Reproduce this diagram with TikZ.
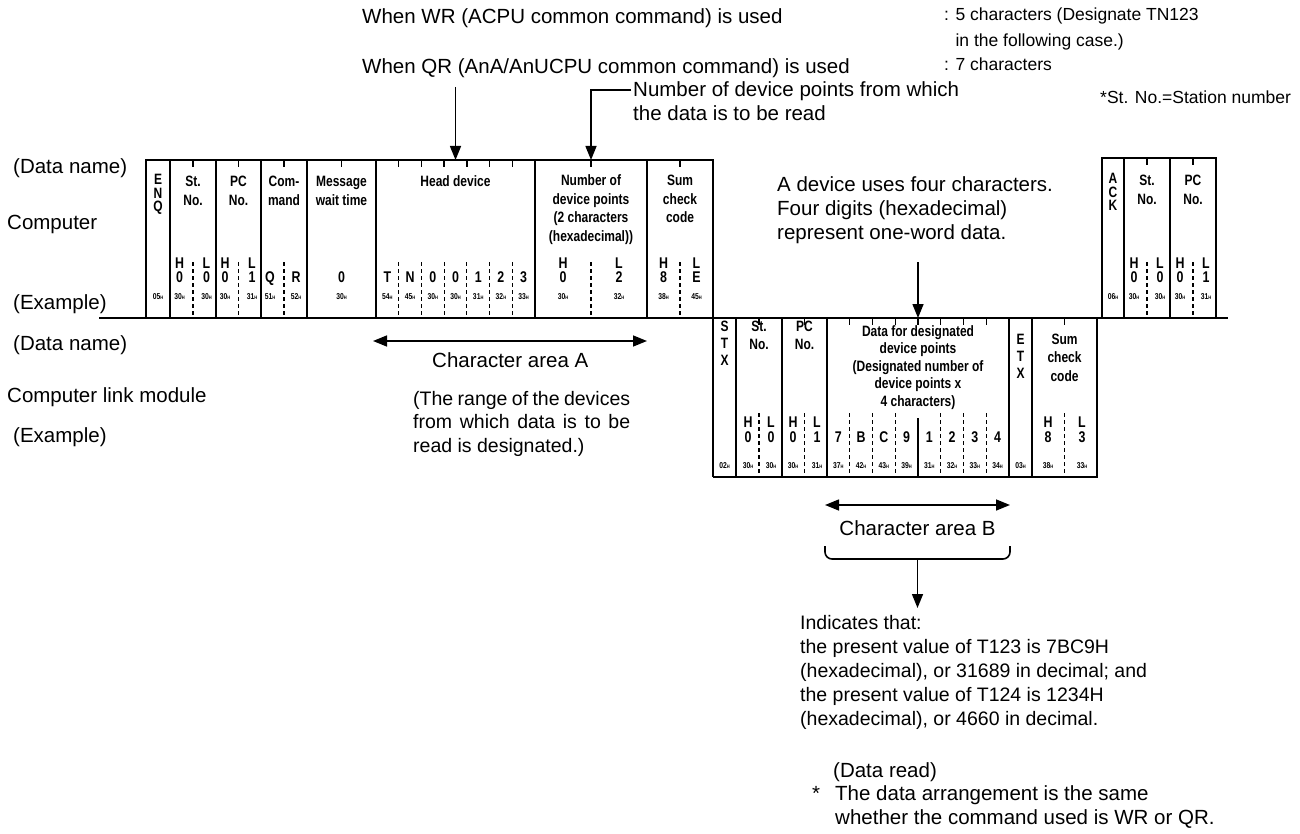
\documentclass[tikz,border=0pt]{standalone}
\usepackage{fontspec}
\setmainfont{Liberation Sans}
\newfontfamily\narrowfont{Liberation Sans}[FakeStretch=0.80]
\usetikzlibrary{arrows.meta}
\newcommand\hx[1]{{\fontsize{8.5}{9}\selectfont #1}{\fontsize{5}{5}\selectfont H}}
\newcommand\ctr[1]{\vtop{\halign{\hfil##\hfil\cr#1\crcr}}}
\newcommand\lft[1]{\vtop{\halign{##\hfil\cr#1\crcr}}}
\begin{document}
\begin{tikzpicture}[x=1pt,y=-1pt,
  txt/.style={font=\fontsize{20.5}{24}\selectfont, inner sep=0, anchor=base west},
  stxt/.style={font=\fontsize{17.5}{26}\selectfont, inner sep=0, anchor=base west},
  lbl/.style={font=\narrowfont\bfseries\fontsize{15}{18.5}\selectfont, inner sep=0, anchor=base},
  vlet/.style={font=\narrowfont\bfseries\fontsize{15}{13.5}\selectfont, inner sep=0, anchor=base},
  ch/.style={font=\narrowfont\bfseries\fontsize{15.5}{15.5}\selectfont, inner sep=0, anchor=base},
  hex/.style={font=\narrowfont\bfseries, inner sep=0, anchor=base},
  frm/.style={line width=1.6pt},
  tick/.style={line width=1.3pt},
  dv/.style={line width=1.1pt, dash pattern=on 4pt off 3pt},
  arr/.style={line width=1.5pt, -{Triangle[length=14pt,width=11pt]}},
  darr/.style={line width=1.5pt, {Triangle[length=14pt,width=11pt]}-{Triangle[length=14pt,width=11pt]}}]
\useasboundingbox (0,0) rectangle (1300,834);

% ---------- top texts ----------
\node[txt] (wr) at (362,24) {When WR (ACPU common command) is used};
\node[stxt] (wrv) at (944,21) {\lft{: 5 characters (Designate TN123\cr \phantom{: }in the following case.)}};
\node[txt] (qr) at (362,74) {When QR (AnA/AnUCPU common command) is used};
\node[stxt] (qrv) at (944,71) {: 7 characters};
\node[txt] (np) at (633,97) {\lft{Number of device points from which\cr the data is to be read}};
\node[txt, font=\fontsize{17.5}{20}\selectfont] (stn) at (1100,104) {*St. No.=Station number};

% ---------- left labels ----------
\node[txt] (dn1) at (13,174) {(Data name)};
\node[txt] (cp) at (7,230) {Computer};
\node[txt] (ex1) at (13,309) {(Example)};
\node[txt] (dn2) at (13,350) {(Data name)};
\node[txt] (clm) at (7,402) {Computer link module};
\node[txt] (ex2) at (13,442) {(Example)};

% ---------- main horizontal line ----------
\coordinate (hl0) at (99,318);
\coordinate (hl1) at (1228,318);
\draw[frm] (hl0) -- (hl1);

% ---------- top frame ----------
\draw[frm] (146,318) -- (146,160) -- (713,160) -- (713,477);
\foreach \x in {170,216,261,307,376,535,647} \draw[frm] (\x,160) -- (\x,318);
\foreach \x in {193,238.5,284,341.5,398.7,421.4,444.1,466.9,489.6,512.3,591,680}
  \draw[tick] (\x,160) -- (\x,167);
\foreach \x in {193,238.5,284,398.7,421.4,444.1,466.9,489.6,512.3,591,680}
  \draw[dv] (\x,262) -- (\x,318);
% ENQ
\node[vlet] (enq) at (158,185) {\ctr{E\cr N\cr Q}};
\node[hex] at (158,299) {\hx{05}};
% St No
\node[lbl] (stno) at (193,187) {\ctr{St.\cr No.}};
\node[ch] at (179.5,269) {H}; \node[ch] at (206.5,269) {L};
\node[ch] at (179.5,283) {0}; \node[ch] at (206.5,283) {0};
\node[hex] at (179.5,299) {\hx{30}}; \node[hex] at (206.5,299) {\hx{30}};
% PC No
\node[lbl] (pcno) at (238.5,187) {\ctr{PC\cr No.}};
\node[ch] at (225,269) {H}; \node[ch] at (252,269) {L};
\node[ch] at (225,283) {0}; \node[ch] at (252,283) {1};
\node[hex] at (225,299) {\hx{30}}; \node[hex] at (252,299) {\hx{31}};
% Command
\node[lbl] (cmd) at (284,187) {\ctr{Com-\cr mand}};
\node[ch] at (270,283) {Q}; \node[ch] at (296,283) {R};
\node[hex] at (270,299) {\hx{51}}; \node[hex] at (296,299) {\hx{52}};
% Message wait time
\node[lbl] (mwt) at (341.5,187) {\ctr{Message\cr wait time}};
\node[ch] at (341.5,283) {0};
\node[hex] at (341.5,299) {\hx{30}};
% Head device
\node[lbl] (hd) at (455.5,187) {Head device};
\foreach \c/\h [count=\i from 0] in {T/54,N/45,0/30,0/30,1/31,2/32,3/33}{
  \node[ch] at (376+22.714*\i+11.357,283) {\c};
  \node[hex] at (376+22.714*\i+11.357,299) {\hx{\h}};
}
\coordinate (hdtop) at (455.5,160);
% Number of device points
\node[lbl] (ndp) at (591,186) {\ctr{Number of\cr device points\cr (2 characters\cr (hexadecimal))}};
\node[ch] at (563,269) {H}; \node[ch] at (619,269) {L};
\node[ch] at (563,283) {0}; \node[ch] at (619,283) {2};
\node[hex] at (563,299) {\hx{30}}; \node[hex] at (619,299) {\hx{32}};
\coordinate (ndptop) at (591,160);
% Sum check
\node[lbl] (sc1) at (680,186) {\ctr{Sum\cr check\cr code}};
\node[ch] at (663.5,269) {H}; \node[ch] at (696.5,269) {L};
\node[ch] at (663.5,283) {8}; \node[ch] at (696.5,283) {E};
\node[hex] at (663.5,299) {\hx{38}}; \node[hex] at (696.5,299) {\hx{45}};

% ---------- ACK frame ----------
\draw[frm] (1102,318) -- (1102,158) -- (1216,158) -- (1216,318);
\foreach \x in {1124,1170} \draw[frm] (\x,158) -- (\x,318);
\foreach \x in {1147,1193} {\draw[tick] (\x,158) -- (\x,165); \draw[dv] (\x,262) -- (\x,318);}
\node[vlet] (ack) at (1113,184) {\ctr{A\cr C\cr K}};
\node[hex] at (1113,299) {\hx{06}};
\node[lbl] (stno3) at (1147,186) {\ctr{St.\cr No.}};
\node[ch] at (1134,269) {H}; \node[ch] at (1160,269) {L};
\node[ch] at (1134,283) {0}; \node[ch] at (1160,283) {0};
\node[hex] at (1134,299) {\hx{30}}; \node[hex] at (1160,299) {\hx{30}};
\node[lbl] (pcno3) at (1193,186) {\ctr{PC\cr No.}};
\node[ch] at (1180,269) {H}; \node[ch] at (1206,269) {L};
\node[ch] at (1180,283) {0}; \node[ch] at (1206,283) {1};
\node[hex] at (1180,299) {\hx{30}}; \node[hex] at (1206,299) {\hx{31}};

% ---------- bottom frame ----------
\draw[frm] (713,477) -- (1097,477) -- (1097,318);
\foreach \x in {736,782,827,1009,1032} \draw[frm] (\x,318) -- (\x,477);
\foreach \x in {759,804.5,849.75,872.5,895.25,918,940.75,963.5,986.25,1064.5}
  \draw[tick] (\x,318) -- (\x,325);
\foreach \x in {759,804.5,849.75,872.5,895.25,940.75,963.5,986.25,1064.5}
  \draw[dv] (\x,413) -- (\x,477);
\draw[tick] (918,418) -- (918,477);
\node[vlet, font=\narrowfont\bfseries\fontsize{15}{17}\selectfont] (stx) at (724.5,331) {\ctr{S\cr T\cr X}};
\node[hex] at (724.5,468) {\hx{02}};
\node[lbl] (stno2) at (759,331) {\ctr{St.\cr No.}};
\node[ch] at (748,427) {H}; \node[ch] at (771,427) {L};
\node[ch] at (748,442) {0}; \node[ch] at (771,442) {0};
\node[hex] at (748,468) {\hx{30}}; \node[hex] at (771,468) {\hx{30}};
\node[lbl] (pcno2) at (804.5,331) {\ctr{PC\cr No.}};
\node[ch] at (793,427) {H}; \node[ch] at (817,427) {L};
\node[ch] at (793,442) {0}; \node[ch] at (817,442) {1};
\node[hex] at (793,468) {\hx{30}}; \node[hex] at (817,468) {\hx{31}};
\node[lbl, font=\narrowfont\bfseries\fontsize{15}{17.5}\selectfont] (dfd) at (918,336) {\ctr{Data for designated\cr device points\cr (Designated number of\cr device points x\cr 4 characters)}};
\foreach \c/\h [count=\i from 0] in {7/37,B/42,C/43,9/39,1/31,2/32,3/33,4/34}{
  \node[ch] at (827+22.75*\i+11.375,442) {\c};
  \node[hex] at (827+22.75*\i+11.375,468) {\hx{\h}};
}
\coordinate (dfdtop) at (918,318);
\node[vlet, font=\narrowfont\bfseries\fontsize{15}{17}\selectfont] (etx) at (1020.5,344) {\ctr{E\cr T\cr X}};
\node[hex] at (1020.5,468) {\hx{03}};
\node[lbl] (sc2) at (1064.5,344) {\ctr{Sum\cr check\cr code}};
\node[ch] at (1048,427) {H}; \node[ch] at (1082,427) {L};
\node[ch] at (1048,442) {8}; \node[ch] at (1082,442) {3};
\node[hex] at (1048,468) {\hx{38}}; \node[hex] at (1082,468) {\hx{33}};

% ---------- arrows & annotations ----------
\coordinate (qra) at (455.5,87);
\draw[arr] (qra) -- (hdtop);
\coordinate (npa) at (631,90);
\draw[arr] (npa) -| (ndptop);

\node[txt] (dev) at (777,192) {\lft{A device uses four characters.\cr Four digits (hexadecimal)\cr represent one-word data.}};
\coordinate (deva) at (918,262);
\draw[arr] (deva) -- (dfdtop);

\coordinate (caA0) at (373,341);
\coordinate (caA1) at (647,341);
\draw[darr] (caA0) -- (caA1);
\node[txt] (caA) at (432,367) {Character area A};
\node[txt, font=\fontsize{19.5}{23.5}\selectfont] (rng) at (413,405) {\vtop{\hsize=217pt\parindent=0pt (The range of the devices\break from which data is to be\break read is designated.)}};

\coordinate (caB0) at (825,505);
\coordinate (caB1) at (1010,505);
\draw[darr] (caB0) -- (caB1);
\node[txt, anchor=base] (caB) at (917.5,535) {Character area B};
\coordinate (br0) at (825,546);
\coordinate (br1) at (1010,546);
\coordinate (brm) at (917.5,559);
\draw[line width=1.6pt, rounded corners=7pt] (br0) -- (825,559) -- (1010,559) -- (br1);
\coordinate (ind) at (917.5,608);
\draw[arr] (brm) -- (ind);

\node[txt, font=\fontsize{19.5}{24}\selectfont] (indt) at (800,629) {\lft{Indicates that:\cr the present value of T123 is 7BC9H\cr (hexadecimal), or 31689 in decimal; and\cr the present value of T124 is 1234H\cr (hexadecimal), or 4660 in decimal.}};

\node[txt] (dr) at (833,777) {(Data read)};
\node[txt] (ast) at (812,800) {*};
\node[txt] (note) at (835,800) {\lft{The data arrangement is the same\cr whether the command used is WR or QR.}};
\end{tikzpicture}
\end{document}
